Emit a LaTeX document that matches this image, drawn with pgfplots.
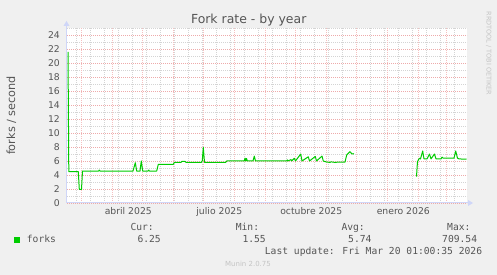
\documentclass[border=0pt]{standalone}
\usepackage{pgfplots}
\pgfplotsset{compat=1.18}
\usepackage{fontspec}
\setmainfont{DejaVu Sans}
\newfontfamily\monofont{DejaVu Sans Mono}
\definecolor{fontc}{HTML}{555555}
\definecolor{bgc}{HTML}{F0F0F0}
\definecolor{arrowc}{HTML}{CFD6F8}
\definecolor{mgrid}{RGB}{238,170,170}
\definecolor{mgridv}{RGB}{244,192,192}
\definecolor{ngrid}{RGB}{212,212,212}
\definecolor{linec}{HTML}{00CC00}
\definecolor{wmark}{HTML}{C4C4C4}
\begin{document}
\begin{tikzpicture}
\fill[bgc] (0,0) rectangle (497bp,275bp);
\begin{axis}[
  at={(67bp,72bp)}, anchor=south west,
  scale only axis, width=400bp, height=175bp,
  xmin=0, xmax=400, ymin=0, ymax=25,
  axis background/.style={fill=white},
  axis line style={draw=none},
  major tick length=0pt, minor tick length=0pt,
  xtick={61.3,152.3,244.3,336.3},
  xticklabels={abril 2025, julio 2025, octubre 2025, enero 2026},
  minor xtick={9,23,...,387},
  xminorgrids=true,
  extra x ticks={14.3,45.3,75.3,106.3,136.3,167.3,198.3,228.3,259.3,289.3,320.3,351.3,379.3},
  extra x tick labels={},
  extra x tick style={grid=major, major grid style={mgridv, line width=0.7bp, dash pattern=on 1bp off 1bp}},
  ytick={0,2,...,24},
  minor ytick={1,3,...,25},
  ymajorgrids=true, yminorgrids=true,
  major grid style={mgrid, line width=0.8bp, dash pattern=on 1bp off 1bp},
  minor grid style={ngrid, line width=0.8bp, dash pattern=on 1bp off 1bp},
  tick label style={font=\fontsize{9.3}{10}\selectfont, text=fontc},
  /pgf/number format/assume math mode=true,
  xticklabel style={anchor=base, yshift=-12bp, inner sep=0pt},
  yticklabel style={anchor=east, xshift=-7bp, inner sep=0pt},
]
\addplot[linec, line width=1bp, line join=round] coordinates {
(1.0,21.6) (1.8,4.47) (11.3,4.47) (12.3,1.95) (14.5,1.95) (15.5,4.57) (31.5,4.57) (32.3,4.7) (33,4.57)
(66,4.57) (68.3,5.75) (69.7,4.57) (73,4.57) (74.3,6.0) (75.7,4.57) (81,4.57) (81.7,4.7) (82.5,4.57)
(89.7,4.57) (91.3,5.52) (106.3,5.52) (107.5,5.81) (114,5.81) (115,5.95) (118,5.95) (119,5.81)
(134.5,5.81) (135.3,6.05) (136.3,7.95) (137.5,5.81) (158.7,5.81) (159.7,6.0) (177.3,6.0) (178,6.4)
(178.8,6.0) (179.5,6.35) (180.3,6.0) (186,6.0) (187.3,6.7) (188.5,6.0) (219.7,6.0) (220.3,6.15)
(221,6.0) (224,6.2) (224.7,6.0) (227.3,6.38) (228.5,6.0) (233.7,7.0) (235,6.0) (241.3,6.6) (242.5,6.0)
(248.3,6.65) (249.5,6.0) (255,6.7) (256.3,6.0) (259.7,5.85) (263,5.8) (264,5.88) (268,5.8) (272,5.85)
(278,5.85) (279.7,6.86) (283,7.33) (285,7.0) (286.3,7.0) (287,7.05)
};
\addplot[linec, line width=1bp, line join=round] coordinates {
(349.5,3.76) (350.5,5.9) (352.3,6.38) (353.5,6.3) (355.7,7.43) (357,6.3) (360,6.3) (362.5,7.0)
(364,6.3) (367.5,7.0) (369,6.3) (374,6.3) (375,6.55) (376.3,6.4) (387,6.4) (388.7,7.43) (390.5,6.4)
(392,6.3) (399.5,6.25)
};
\end{axis}
% axes arrows
\draw[arrowc, line width=1bp] (66.5bp,72bp) -- (66.5bp,249bp);
\fill[arrowc] (63.5bp,249bp) -- (69.5bp,249bp) -- (66.5bp,254bp) -- cycle;
\draw[arrowc, line width=1bp] (67bp,72bp) -- (468bp,72bp);
\fill[arrowc] (468bp,69bp) -- (468bp,75bp) -- (473bp,72bp) -- cycle;
% title and labels
\node[anchor=base, inner sep=0, font=\fontsize{12.5}{14}\selectfont, text=fontc] at (248.7bp,251bp) {Fork rate - by year};
\node[anchor=base, rotate=90, inner sep=0, font=\fontsize{11.3}{13}\selectfont, text=fontc] at (15bp,159.5bp) {forks / second};
\node[rotate=-90, inner sep=0, font=\fontsize{6.5}{7}\selectfont, text=wmark] at (488.7bp,221.7bp) {RRDTOOL / TOBI OETIKER};
% legend
\fill[linec] (14bp,32.3bp) rectangle (20bp,38.3bp);
\begin{scope}[every node/.style={inner sep=0, font=\monofont\fontsize{9.7}{10}\selectfont, text=fontc}]
\node[anchor=base west] at (26.7bp,32.3bp) {forks};
\node[anchor=base east] at (154bp,44bp) {Cur:};
\node[anchor=base east] at (259.3bp,44bp) {Min:};
\node[anchor=base east] at (365bp,44bp) {Avg:};
\node[anchor=base east] at (470.7bp,44bp) {Max:};
\node[anchor=base east] at (161bp,32.3bp) {6.25};
\node[anchor=base east] at (266bp,32.3bp) {1.55};
\node[anchor=base east] at (371.7bp,32.3bp) {5.74};
\node[anchor=base east] at (477.3bp,32.3bp) {709.54};
\node[anchor=base east] at (482.3bp,21bp) {Last update: Fri Mar 20 01:00:35 2026};
\end{scope}
\node[anchor=base, inner sep=0, font=\fontsize{7}{8}\selectfont, text=wmark] at (248bp,8.5bp) {Munin 2.0.75};
\end{tikzpicture}
\end{document}
